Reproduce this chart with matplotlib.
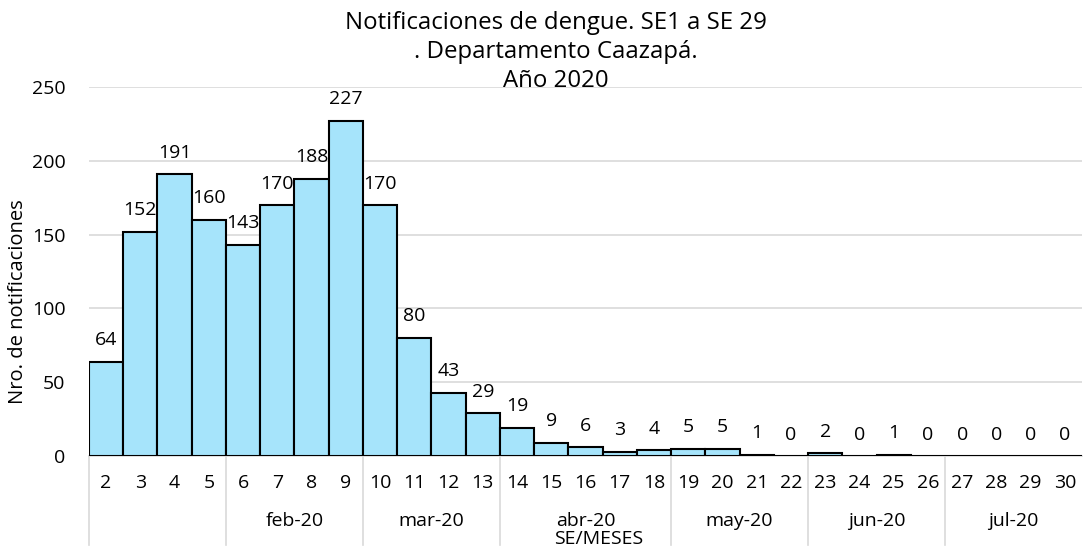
import matplotlib
matplotlib.use("Agg")
import matplotlib.pyplot as plt
import matplotlib.transforms as mtransforms

plt.rcParams["font.family"] = ["Open Sans", "DejaVu Sans"]

# semanas epidemiologicas y notificaciones
weeks = [str(w) for w in range(2, 31)]
cases = [64, 152, 191, 160, 143, 170, 188, 227, 170, 80, 43, 29, 19, 9, 6,
         3, 4, 5, 5, 1, 0, 2, 0, 1, 0, 0, 0, 0, 0]

# grupos de meses: (etiqueta, cantidad de semanas)
months = ["", "feb-20", "mar-20", "abr-20", "may-20", "jun-20", "jul-20"]
month_sizes = [4, 4, 4, 5, 4, 4, 4]

title_lines = ["Notificaciones de dengue. SE1 a SE 29",
               ". Departamento Caazapá.",
               "Año 2020"]

BAR_COLOR = "#A6E4FB"
GRID_COLOR = "#D9D9D9"
FS = 14

W, H = 1083, 548
fig = plt.figure(figsize=(W / 100, H / 100), dpi=100)
ax = fig.add_axes([89 / W, (H - 456) / H, (1082 - 89) / W, (456 - 87) / H])

x = list(range(len(weeks)))
bars = ax.bar(x, cases, width=1.0, color=BAR_COLOR, edgecolor="black",
              linewidth=1.5, zorder=3)

for xi, v in zip(x, cases):
    ax.annotate(str(v), (xi, v), xytext=(0, 9), textcoords="offset points",
                ha="center", va="bottom", fontsize=FS)

ax.set_xlim(-0.5, len(weeks) - 0.5)
ax.set_ylim(0, 250)
ax.set_yticks(range(0, 251, 50))
ax.yaxis.grid(True, color=GRID_COLOR, linewidth=1.2, zorder=0)
ax.tick_params(axis="y", length=0, pad=17, labelsize=FS)

ax.set_xticks(x)
ax.set_xticklabels(weeks)
ax.tick_params(axis="x", length=0, pad=13, labelsize=FS)

for s in ["top", "right", "left"]:
    ax.spines[s].set_visible(False)
ax.spines["bottom"].set_color(GRID_COLOR)
ax.spines["bottom"].set_linewidth(1.2)

# separadores y etiquetas de meses
trans = mtransforms.blended_transform_factory(ax.transData, ax.transAxes)
sep_bottom = -(545 - 456) / (456 - 87)
month_y = -(521 - 456) / (456 - 87)
start = -0.5
for label, n in zip(months, month_sizes):
    ax.plot([start, start], [0, sep_bottom], color=GRID_COLOR, linewidth=1.2,
            transform=trans, clip_on=False)
    ax.text(start + n / 2, month_y, label, transform=trans, ha="center",
            va="center", fontsize=FS)
    start += n

fig.text(599 / W, 1 - 544 / H, "SE/MESES", ha="center", va="baseline",
         fontsize=FS)
fig.text(18 / W, 1 - 302 / H, "Nro. de notificaciones", rotation=90,
         ha="center", va="center", fontsize=14.5)

for i, line in enumerate(title_lines):
    fig.text(556 / W, 1 - (29 + 29 * i) / H, line, ha="center",
             va="baseline", fontsize=17.3)

fig.savefig("out.png", dpi=100)
